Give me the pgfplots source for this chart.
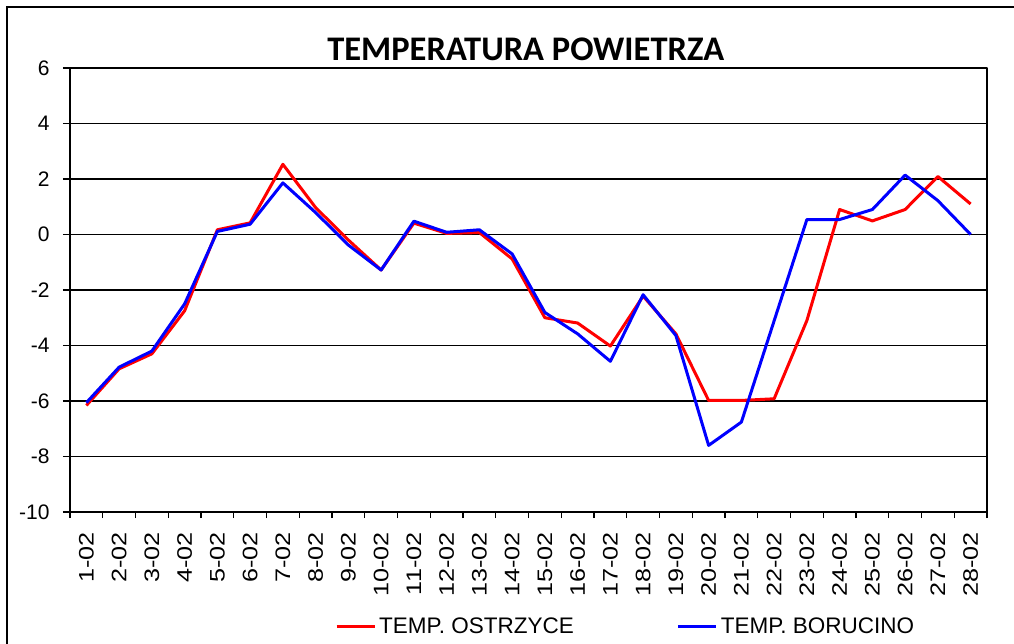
\documentclass[border=0pt]{standalone}
\usepackage{fontspec}
\setmainfont{Liberation Sans}
\newfontfamily\titlefont{Carlito}
\newfontfamily\xtickfont[FakeStretch=1.2]{Liberation Sans}
\usepackage{pgfplots}
\pgfplotsset{compat=1.18}
\definecolor{pred}{RGB}{255,0,0}
\definecolor{pblue}{RGB}{0,0,255}
\begin{document}
\begin{tikzpicture}
\path[use as bounding box] (-70pt,-131pt) rectangle (944pt,512pt);
\draw[line width=1.3pt] (-63pt,-300pt) -- (-63pt,505pt) -- (1100pt,505pt);
\begin{axis}[
  at={(0pt,0pt)}, anchor=south west,
  scale only axis, width=917pt, height=444pt,
  xmin=0.5, xmax=28.5, ymin=-10, ymax=6,
  ytick={-10,-8,...,6},
  xtick={1,...,28},
  xticklabels={1-02,2-02,3-02,4-02,5-02,6-02,7-02,8-02,9-02,10-02,11-02,12-02,13-02,14-02,15-02,16-02,17-02,18-02,19-02,20-02,21-02,22-02,23-02,24-02,25-02,26-02,27-02,28-02},
  minor xtick={0.5,1.5,...,28.5},
  xtick pos=bottom, ytick pos=left,
  major x tick style={draw=none},
  minor x tick style={line width=1.3pt, black},
  major y tick style={line width=1.3pt, black},
  minor tick length=6pt, major tick length=7pt,
  tick align=outside,
  ymajorgrids, grid style={line width=1.5pt, black},
  axis line style={line width=1.8pt, black},
  /pgf/number format/assume math mode=true,
  yticklabel style={font=\fontsize{21}{25}\selectfont, xshift=-10pt},
  xticklabel style={font=\xtickfont\fontsize{21}{25}\selectfont, yshift=-10pt, rotate=90, anchor=east},
  title={TEMPERATURA POWIETRZA},
  title style={at={(0.497,1)}, anchor=base, yshift=1pt, font=\titlefont\bfseries\fontsize{34.5}{40}\selectfont},
  legend columns=2,
  legend style={at={(0.289,-0.258)}, anchor=west, draw=none, fill=none, inner sep=0pt,
    font=\fontsize{22.5}{26}\selectfont,
    /tikz/every even column/.append style={column sep=100pt},
    nodes={inner xsep=3pt, inner ysep=0pt}},
  legend image code/.code={\draw[#1, line width=3pt] (0pt,0pt) -- (38pt,0pt);},
  line join=round,
]
\addplot[pred, line width=3pt] coordinates {
(1,-6.16)(2,-4.84)(3,-4.3)(4,-2.75)(5,0.17)(6,0.42)(7,2.53)(8,0.97)(9,-0.2)(10,-1.28)
(11,0.41)(12,0.04)(13,0.07)(14,-0.88)(15,-3.0)(16,-3.19)(17,-4.02)(18,-2.22)(19,-3.58)(20,-5.98)
(21,-5.98)(22,-5.92)(23,-3.1)(24,0.9)(25,0.49)(26,0.9)(27,2.09)(28,1.1)};
\addlegendentry{TEMP. OSTRZYCE}
\addplot[pblue, line width=3pt] coordinates {
(1,-6.06)(2,-4.78)(3,-4.2)(4,-2.5)(5,0.11)(6,0.37)(7,1.86)(8,0.79)(9,-0.38)(10,-1.28)
(11,0.48)(12,0.08)(13,0.17)(14,-0.7)(15,-2.81)(16,-3.58)(17,-4.57)(18,-2.17)(19,-3.64)(20,-7.6)
(21,-6.76)(22,-3.11)(23,0.54)(24,0.54)(25,0.9)(26,2.14)(27,1.22)(28,0.0)};
\addlegendentry{TEMP. BORUCINO}
\end{axis}
\end{tikzpicture}
\end{document}
